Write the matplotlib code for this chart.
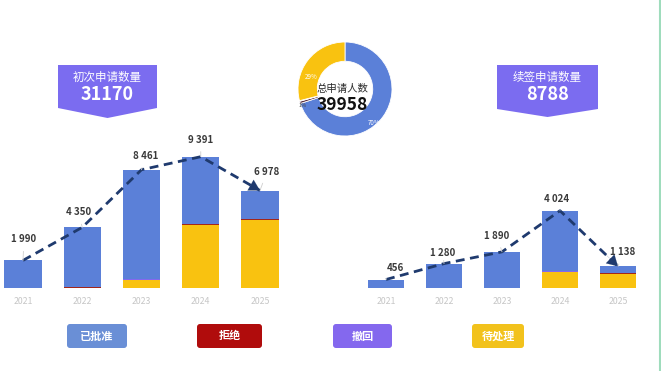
import numpy as np
import matplotlib
matplotlib.use('Agg')
import matplotlib.pyplot as plt
from matplotlib.patches import Polygon, FancyBboxPatch
from matplotlib.lines import Line2D

plt.rcParams['font.family'] = ['Noto Sans CJK SC', 'DejaVu Sans']

# 数据
years = ['2021', '2022', '2023', '2024', '2025']
first_total = np.array([1990, 4350, 8461, 9391, 6978])
first_pending = np.array([0, 40, 560, 4500, 4900])
first_rejected = np.array([10, 20, 60, 100, 30])
first_withdrawn = np.array([0, 0, 20, 20, 20])
renew_total = np.array([456, 1280, 1890, 4024, 1138])
renew_pending = np.array([0, 0, 10, 850, 730])
renew_rejected = np.array([5, 15, 15, 20, 40])
renew_withdrawn = np.array([0, 0, 0, 10, 10])
legend_names = ['已批准', '拒绝', '撤回', '待处理']

BLUE = '#5b80d8'
RED = '#a3261a'
PURPLE = '#8468ee'
YELLOW = '#f9c210'
NAVY = '#1f3a6e'
LEG_COLORS = ['#6a8fd6', '#b00c0c', '#8468ee', '#f2c21c']

W, H = 661, 371


def box(x0, y0, x1, y1):
    # 像素坐标(左上为原点) -> figure 比例
    return [x0 / W, 1 - y1 / H, (x1 - x0) / W, (y1 - y0) / H]


fig = plt.figure(figsize=(W / 100, H / 100), dpi=100)
bg = fig.add_axes([0, 0, 1, 1])
bg.set_xlim(0, W)
bg.set_ylim(H, 0)
bg.axis('off')


def draw_bars(ax, totals, pending, rejected, withdrawn, offsets, ymax, xlim):
    x = np.arange(len(years))
    approved = totals - pending - rejected - withdrawn
    bottom = np.zeros(len(x))
    for vals, c in [(pending, YELLOW), (rejected, RED), (withdrawn, PURPLE), (approved, BLUE)]:
        ax.bar(x, vals, 0.63, bottom=bottom, color=c, lw=0, zorder=2)
        bottom = bottom + vals
    ax.plot(x, totals, color=NAVY, lw=2.0, dashes=(3.2, 2.0), zorder=3)
    f = 0.8
    ax.annotate('', xy=(x[-1], totals[-1]),
                xytext=(x[-2] + f * (x[-1] - x[-2]), totals[-2] + f * (totals[-1] - totals[-2])),
                arrowprops=dict(arrowstyle='-|>,head_length=0.7,head_width=0.4', color=NAVY,
                                lw=0.1, shrinkA=0, shrinkB=0, mutation_scale=11), zorder=4)
    for xi, v, (dx, dy) in zip(x, totals, offsets):
        ax.annotate(f'{v:,}'.replace(',', ' '), xy=(xi, v), xytext=(dx, -dy),
                    textcoords='offset pixels', ha='center', va='center',
                    fontsize=7, fontweight='bold', color='#3a3a3a',
                    arrowprops=dict(arrowstyle='-', color='#cfcfcf', lw=0.6,
                                    shrinkA=3, shrinkB=0), zorder=5)
    ax.set_xlim(*xlim)
    ax.set_ylim(0, ymax)
    ax.set_xticks(x)
    ax.set_xticklabels(years)
    ax.tick_params(axis='x', length=0, pad=6, labelsize=6.3, labelcolor='#c6c6c6')
    ax.set_yticks([])
    for s in ax.spines.values():
        s.set_visible(False)
    ax.patch.set_alpha(0)


# 左: 初次申请
ax1 = fig.add_axes(box(0, 130, 290, 288.3))
draw_bars(ax1, first_total, first_pending, first_rejected, first_withdrawn,
          [(1, -21), (-4, -15), (4, -14), (0, -17), (7, -19)],
          158.3 * 71.36, (-23 / 59.25, -23 / 59.25 + 290 / 59.25))

# 右: 续签申请
ax2 = fig.add_axes(box(355, 130, 650, 288.3))
draw_bars(ax2, renew_total, renew_pending, renew_rejected, renew_withdrawn,
          [(9, -12), (-1, -11), (-5, -16), (-3, -12), (5, -14)],
          158.3 * 51.86, (-31 / 58, 264 / 58))

# 标题徽章
for (x0, x1, y_top, y_side, y_tip, title, num) in [
        (58, 157, 65, 108, 118, '初次申请数量', first_total.sum()),
        (497, 598, 65, 109, 117, '续签申请数量', renew_total.sum())]:
    xm = (x0 + x1) / 2
    bg.add_patch(Polygon([(x0, y_top), (x1, y_top), (x1, y_side), (xm, y_tip), (x0, y_side)],
                         closed=True, facecolor='#7b6cf0', edgecolor='none'))
    bg.text(xm, 77, title, ha='center', va='center', color='white', fontsize=8.3)
    bg.text(xm, 94, str(num), ha='center', va='center', color='white',
            fontsize=13, fontweight='bold')

# 环形图
ax3 = fig.add_axes(box(298, 42, 392, 136))
approved_sum = (first_total - first_pending - first_rejected - first_withdrawn).sum() + \
    (renew_total - renew_pending - renew_rejected - renew_withdrawn).sum()
rej_sum = first_rejected.sum() + renew_rejected.sum()
wd_sum = first_withdrawn.sum() + renew_withdrawn.sum()
pend_sum = first_pending.sum() + renew_pending.sum()
total_sum = first_total.sum() + renew_total.sum()
ax3.pie([approved_sum, rej_sum, wd_sum, pend_sum], colors=[BLUE, '#5a2a3a', PURPLE, YELLOW],
        startangle=90, counterclock=False, radius=1,
        wedgeprops=dict(width=0.41, edgecolor='white', linewidth=0.6))
ax3.set_xlim(-1, 1)
ax3.set_ylim(-1, 1)
ax3.text(-0.71, 0.26, f'{round(pend_sum / total_sum * 100)}%', color='white',
         fontsize=4.5, ha='center', va='center')
ax3.text(0.62, -0.72, f'{round(approved_sum / total_sum * 100)}%', color='white',
         fontsize=4.5, ha='center', va='center')
ax3.text(-0.9, -0.36, f'{round((rej_sum + wd_sum) / total_sum * 100)}%', color='#444444',
         fontsize=4.0, ha='center', va='center')
ax3.text(-0.05, -0.01, '总申请人数', ha='center', va='center', fontsize=7.5, color='#2a2a2a')
ax3.text(-0.05, -0.35, str(total_sum), ha='center', va='center', fontsize=12.5,
         fontweight='bold', color='#111111')

# 图例
for (x0, x1), name, c in zip([(67, 127), (197, 262), (333, 392), (472, 524)],
                             legend_names, LEG_COLORS):
    bg.add_patch(FancyBboxPatch((x0, 324), x1 - x0, 24,
                                boxstyle='round,pad=0,rounding_size=3',
                                facecolor=c, edgecolor='none'))
    bg.text((x0 + x1) / 2, 336, name, ha='center', va='center', color='white',
            fontsize=8, fontweight='bold')

bg.add_line(Line2D([659.5, 659.5], [0, H], color='#9fdcbc', lw=1.5))

fig.savefig('out.png', dpi=100)
